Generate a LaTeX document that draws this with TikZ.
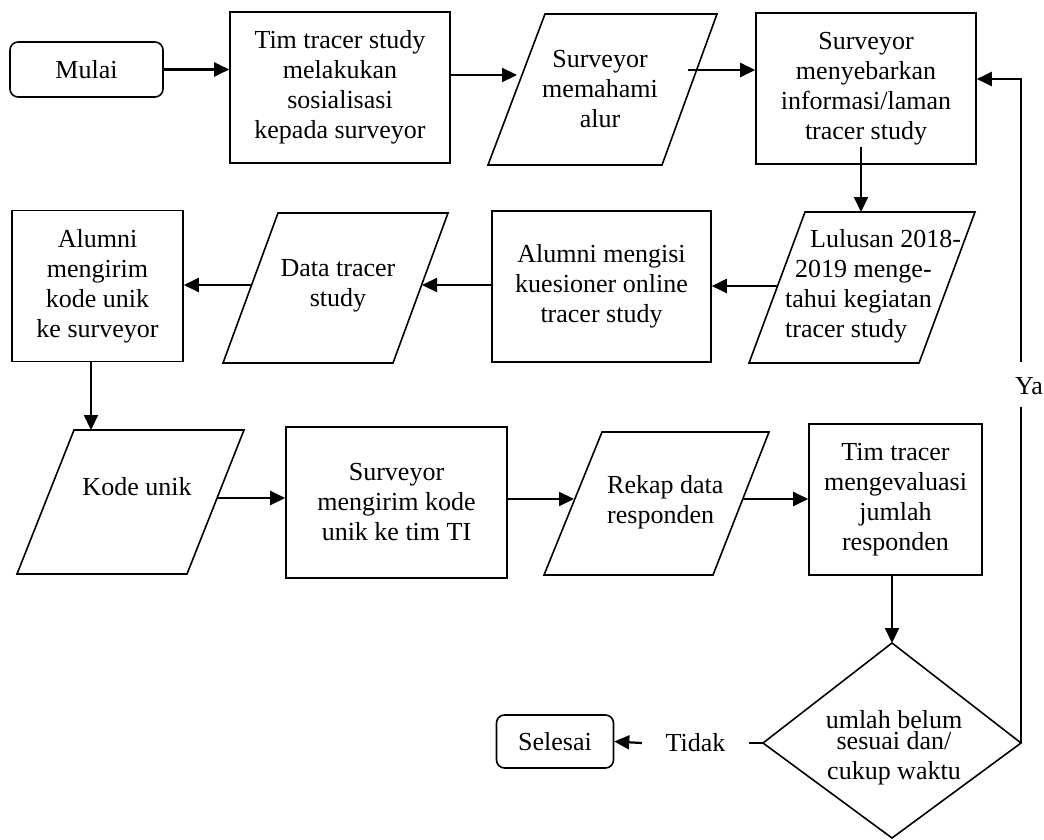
\documentclass[tikz,border=0pt]{standalone}
\usepackage{fontspec}
\setmainfont{Liberation Serif}
\usetikzlibrary{arrows.meta}
\begin{document}
\begin{tikzpicture}[x=1pt,y=-1pt,
  every node/.style={font=\fontsize{26}{30}\selectfont, inner sep=0pt, align=center},
  box/.style={draw, line width=1.6pt},
  term/.style={draw, line width=1.6pt, rounded corners=8pt},
  shp/.style={draw, line width=1.6pt, line join=miter},
  arr/.style={line width=2.2pt, -{Triangle[length=15pt,width=14pt]}},
  ln/.style={line width=2.2pt}]
\useasboundingbox (0,0) rectangle (1044,840);

% row 1
\node[term, minimum width=153pt, minimum height=55pt] (mulai) at (86.5,69.5) {Mulai};
\node[box, minimum width=220pt, minimum height=151pt] (b1) at (340,87.5) {Tim tracer study\\melakukan\\sosialisasi\\kepada surveyor};
\draw[shp] (545,14) -- (717,14) -- (662,165) -- (488,165) -- cycle;
\node (p1) at (600,89) {Surveyor\\memahami\\alur};
\node[box, minimum width=220pt, minimum height=151pt] (b2) at (866,88.5) {Surveyor\\menyebarkan\\informasi/laman\\tracer study};

% row 2
\draw[shp] (805,212) -- (975,212) -- (919,363) -- (749,363) -- cycle;
\node[align=left, anchor=west] (p3) at (785,286) {\hspace*{25pt}Lulusan 2018-\\\hspace*{10pt}2019 menge-\\tahui kegiatan\\tracer study};
\node[box, minimum width=219pt, minimum height=151pt] (b4) at (601.5,286.5) {Alumni mengisi\\kuesioner online\\tracer study};
\draw[shp] (278,213) -- (448,213) -- (393,363) -- (223,363) -- cycle;
\node (p2) at (338,286) {Data tracer\\study};
\node[box, minimum width=171pt, minimum height=151pt] (b3) at (97.5,286) {Alumni\\mengirim\\kode unik\\ke surveyor};

% row 3
\draw[shp] (74,430) -- (244,430) -- (187,574) -- (17,574) -- cycle;
\node (p5) at (137,487) {Kode unik};
\node[box, minimum width=221pt, minimum height=151pt] (b6) at (396.5,502.5) {Surveyor\\mengirim kode\\unik ke tim TI};
\draw[shp] (602,432) -- (769,432) -- (713,575) -- (544,575) -- cycle;
\node[align=left, anchor=west] (p4) at (607,502) {Rekap data\\responden};
\node[box, minimum width=173pt, minimum height=151pt] (b5) at (895.5,499.5) {Tim tracer\\mengevaluasi\\jumlah\\responden};

% decision
\coordinate (dtop) at (892,643);
\coordinate (dright) at (1021,743);
\coordinate (dbot) at (892,838);
\coordinate (dleft) at (763,743);
\draw[shp] (dtop) -- (dright) -- (dbot) -- (dleft) -- cycle;
\node (d) at (894,748) {umlah belum\\[-9pt]sesuai dan/\\cukup waktu};

\node[term, minimum width=117pt, minimum height=53pt] (sel) at (555,741.5) {Selesai};
\node[minimum width=107pt] (tidak) at (695.5,743) {Tidak};
\node (ya) at (1029,386) {Ya};

% connector points
\coordinate (p1in) at (517,75);
\coordinate (p1out) at (688,70);
\coordinate (b2out) at (861,147);
\coordinate (p3in) at (861,212);
\coordinate (p3out) at (778,286);
\coordinate (p2in) at (422,285);
\coordinate (p2out) at (252,285);
\coordinate (p5in) at (91,430);
\coordinate (p5out) at (218,498);
\coordinate (p4in) at (574,499);
\coordinate (p4out) at (743,499);
\coordinate (ya1) at (1021,407);
\coordinate (ya2) at (1021,362);
\coordinate (fb) at (1021,79);

% connectors
\draw[arr] (mulai.east) -- (mulai.east -| b1.west);
\draw[arr] (b1.east |- p1in) -- (p1in);
\draw[arr] (p1out) -- (p1out -| b2.west);
\draw[arr] (b2out) -- (p3in);
\draw[arr] (p3out) -- (p3out -| b4.east);
\draw[arr] (b4.west |- p2in) -- (p2in);
\draw[arr] (p2out) -- (p2out -| b3.east);
\draw[arr] (b3.south -| p5in) -- (p5in);
\draw[arr] (p5out) -- (p5out -| b6.west);
\draw[arr] (b6.east |- p4in) -- (p4in);
\draw[arr] (p4out) -- (p4out -| b5.west);
\draw[arr] (b5.south -| dtop) -- (dtop);
\draw[ln] (dleft) -- (tidak.east);
\draw[arr] (tidak.west) -- (sel.east);
\draw[ln] (dright) -- (ya1);
\draw[arr] (ya2) -- (fb) -- (fb -| b2.east);
\end{tikzpicture}
\end{document}
